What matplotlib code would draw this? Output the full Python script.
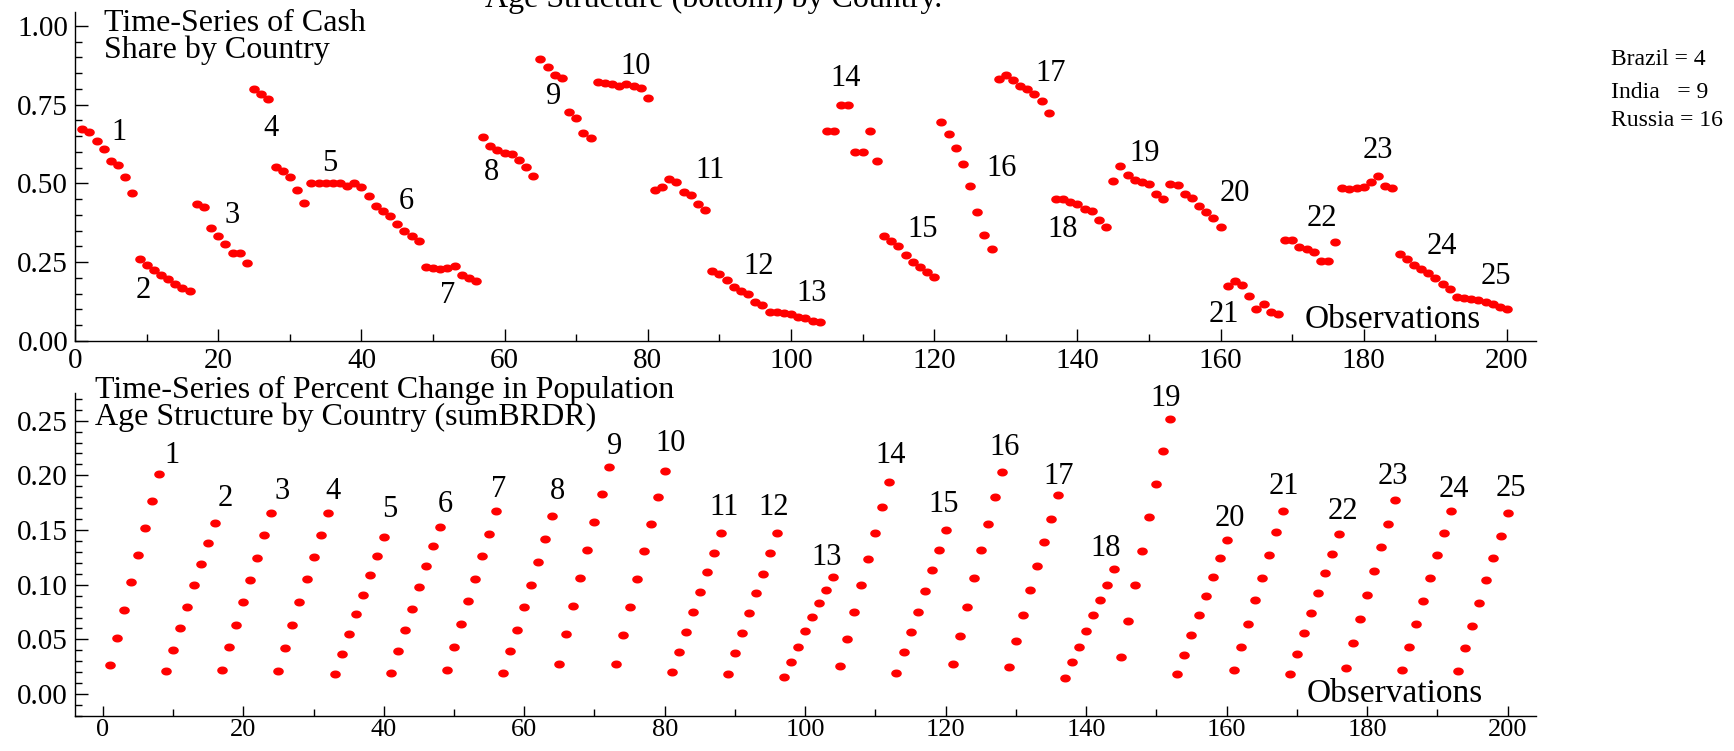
from matplotlib import pyplot as plt
from matplotlib.ticker import MultipleLocator, FormatStrFormatter
from matplotlib.path import Path
import numpy as np

plt.rcParams['font.family'] = ['Liberation Serif', 'DejaVu Serif']

# observation index, 25 countries x 8 years
obs = np.arange(1, 201)
countries = [str(i) for i in range(1, 26)]

# cash share (top panel), one row per country
cash_share = [
    [0.673, 0.663, 0.633, 0.608, 0.571, 0.557, 0.519, 0.468],
    [0.258, 0.240, 0.225, 0.210, 0.195, 0.181, 0.169, 0.157],
    [0.434, 0.425, 0.358, 0.332, 0.307, 0.279, 0.278, 0.248],
    [0.799, 0.783, 0.769, 0.551, 0.538, 0.521, 0.480, 0.438],
    [0.500, 0.500, 0.500, 0.500, 0.500, 0.493, 0.500, 0.489],
    [0.459, 0.429, 0.411, 0.397, 0.371, 0.350, 0.333, 0.317],
    [0.235, 0.230, 0.229, 0.232, 0.238, 0.210, 0.200, 0.190],
    [0.648, 0.620, 0.606, 0.597, 0.594, 0.575, 0.551, 0.523],
    [0.895, 0.869, 0.845, 0.834, 0.728, 0.708, 0.661, 0.643],
    [0.821, 0.819, 0.815, 0.810, 0.815, 0.810, 0.804, 0.771],
    [0.478, 0.489, 0.514, 0.505, 0.473, 0.464, 0.434, 0.414],
    [0.222, 0.211, 0.193, 0.170, 0.158, 0.147, 0.123, 0.112],
    [0.091, 0.091, 0.089, 0.085, 0.076, 0.071, 0.064, 0.058],
    [0.666, 0.666, 0.750, 0.750, 0.600, 0.600, 0.666, 0.572],
    [0.333, 0.316, 0.301, 0.273, 0.250, 0.235, 0.219, 0.202],
    [0.696, 0.656, 0.612, 0.561, 0.492, 0.408, 0.335, 0.292],
    [0.832, 0.844, 0.827, 0.810, 0.799, 0.784, 0.763, 0.723],
    [0.451, 0.451, 0.441, 0.435, 0.418, 0.411, 0.383, 0.361],
    [0.507, 0.554, 0.527, 0.511, 0.505, 0.497, 0.465, 0.450],
    [0.499, 0.494, 0.465, 0.453, 0.429, 0.409, 0.390, 0.361],
    [0.174, 0.189, 0.178, 0.143, 0.100, 0.116, 0.091, 0.084],
    [0.321, 0.319, 0.299, 0.292, 0.283, 0.254, 0.254, 0.313],
    [0.485, 0.481, 0.485, 0.488, 0.504, 0.523, 0.491, 0.485],
    [0.276, 0.260, 0.241, 0.229, 0.216, 0.200, 0.179, 0.164],
    [0.139, 0.136, 0.132, 0.128, 0.123, 0.116, 0.108, 0.100],
]

# percent change in population age structure, sumBRDR (bottom panel)
pop_change = [
    [0.0263, 0.0517, 0.0771, 0.1022, 0.1272, 0.1521, 0.1768, 0.2013],
    [0.0209, 0.0406, 0.0603, 0.0800, 0.0995, 0.1186, 0.1377, 0.1562],
    [0.0218, 0.0430, 0.0636, 0.0842, 0.1045, 0.1246, 0.1458, 0.1652],
    [0.0215, 0.0424, 0.0636, 0.0842, 0.1048, 0.1251, 0.1458, 0.1658],
    [0.0185, 0.0367, 0.0550, 0.0729, 0.0908, 0.1087, 0.1266, 0.1440],
    [0.0197, 0.0391, 0.0585, 0.0777, 0.0980, 0.1174, 0.1353, 0.1529],
    [0.0221, 0.0430, 0.0639, 0.0848, 0.1054, 0.1260, 0.1467, 0.1670],
    [0.0197, 0.0394, 0.0588, 0.0795, 0.1001, 0.1207, 0.1416, 0.1625],
    [0.0278, 0.0547, 0.0806, 0.1066, 0.1320, 0.1574, 0.1825, 0.2076],
    [0.0275, 0.0538, 0.0797, 0.1054, 0.1308, 0.1556, 0.1801, 0.2043],
    [0.0200, 0.0385, 0.0567, 0.0753, 0.0932, 0.1114, 0.1293, 0.1470],
    [0.0188, 0.0373, 0.0556, 0.0738, 0.0920, 0.1102, 0.1287, 0.1470],
    [0.0155, 0.0296, 0.0433, 0.0573, 0.0708, 0.0833, 0.0956, 0.1072],
    [0.0257, 0.0505, 0.0753, 0.0995, 0.1234, 0.1476, 0.1708, 0.1941],
    [0.0194, 0.0382, 0.0567, 0.0755, 0.0944, 0.1132, 0.1317, 0.1502],
    [0.0272, 0.0532, 0.0797, 0.1060, 0.1320, 0.1559, 0.1798, 0.2028],
    [0.0251, 0.0490, 0.0723, 0.0950, 0.1174, 0.1395, 0.1604, 0.1816],
    [0.0149, 0.0293, 0.0433, 0.0579, 0.0723, 0.0860, 0.1001, 0.1141],
    [0.0343, 0.0672, 0.0995, 0.1311, 0.1619, 0.1924, 0.2222, 0.2518],
    [0.0188, 0.0361, 0.0541, 0.0723, 0.0896, 0.1072, 0.1243, 0.1407],
    [0.0224, 0.0433, 0.0645, 0.0857, 0.1066, 0.1272, 0.1478, 0.1673],
    [0.0188, 0.0370, 0.0556, 0.0741, 0.0923, 0.1105, 0.1281, 0.1464],
    [0.0236, 0.0463, 0.0687, 0.0908, 0.1126, 0.1344, 0.1559, 0.1771],
    [0.0224, 0.0433, 0.0642, 0.0851, 0.1063, 0.1269, 0.1473, 0.1670],
    [0.0215, 0.0418, 0.0624, 0.0836, 0.1042, 0.1246, 0.1449, 0.1652],
]

# where the country numbers sit (data coords)
top_lab_x = [6.1, 9.5, 22.0, 27.4, 35.6, 46.3, 52.0, 58.2, 66.8, 78.3, 88.7, 95.5, 102.9,
             107.6, 118.4, 129.4, 136.2, 138.0, 149.4, 162.0, 160.5, 174.1, 181.9, 190.9, 198.5]
top_lab_y = [0.661, 0.161, 0.399, 0.675, 0.564, 0.442, 0.145, 0.535, 0.775, 0.871, 0.540, 0.235, 0.151,
             0.834, 0.354, 0.548, 0.850, 0.352, 0.595, 0.468, 0.082, 0.387, 0.604, 0.299, 0.203]
bot_lab_x = [9.9, 17.4, 25.5, 32.8, 40.8, 48.7, 56.3, 64.7, 72.9, 80.8, 88.4, 95.5, 103.1,
             112.2, 119.7, 128.4, 136.1, 142.8, 151.3, 160.5, 168.1, 176.5, 183.7, 192.3, 200.5]
bot_lab_y = [0.218, 0.179, 0.185, 0.185, 0.169, 0.173, 0.187, 0.185, 0.226, 0.229, 0.171, 0.171, 0.125,
             0.218, 0.173, 0.225, 0.199, 0.133, 0.270, 0.161, 0.190, 0.167, 0.199, 0.187, 0.188]

# slightly flattened dot marker
t = np.linspace(0, 2 * np.pi, 41)
dot = Path(np.column_stack([np.cos(t), 0.72 * np.sin(t)]), closed=True)

f = plt.figure(figsize=(17.34, 7.51), dpi=100)
ax1 = f.add_axes([0.0433, 0.5463, 0.8423, 0.4381])
ax2 = f.add_axes([0.0431, 0.0466, 0.8425, 0.4297])

ax1.plot(obs, np.ravel(cash_share), marker=dot, ms=6.6, color='red', linestyle='None')
ax2.plot(obs, np.ravel(pop_change), marker=dot, ms=6.6, color='red', linestyle='None')

for c, x, y in zip(countries, top_lab_x, top_lab_y):
    ax1.text(x, y, c, fontsize=22, ha='center', va='center')
for c, x, y in zip(countries, bot_lab_x, bot_lab_y):
    ax2.text(x, y, c, fontsize=22, ha='center', va='center')

ax1.axis([0, 204, 0, 1.045])
ax2.axis([-4, 204, -0.02, 0.275])

ax1.yaxis.set_major_locator(MultipleLocator(0.25))
ax1.yaxis.set_minor_locator(MultipleLocator(0.05))
ax2.yaxis.set_major_locator(MultipleLocator(0.05))
ax2.yaxis.set_minor_locator(MultipleLocator(0.01))
for ax in [ax1, ax2]:
    ax.xaxis.set_major_locator(MultipleLocator(20))
    ax.xaxis.set_minor_locator(MultipleLocator(10))
    ax.yaxis.set_major_formatter(FormatStrFormatter('%.2f'))
    for s in ['top', 'right']:
        ax.spines[s].set_visible(False)
    for s in ['left', 'bottom']:
        ax.spines[s].set_linewidth(1.0)
    ax.tick_params(which='both', direction='in', labelsize=21, width=1.0, pad=5)
    ax.tick_params(which='major', length=9)
    ax.tick_params(which='minor', length=5)
ax2.tick_params(axis='x', which='major', length=7.5, labelsize=19, pad=2.5)

ax1.text(4.1, 0.965, 'Time-Series of Cash\nShare by Country', fontsize=23,
         ha='left', va='center', linespacing=0.88)
ax2.text(-1.1, 0.265, 'Time-Series of Percent Change in Population\nAge Structure by Country (sumBRDR)',
         fontsize=23, ha='left', va='center', linespacing=0.88)
ax1.text(184.1, 0.066, 'Observations', fontsize=24, ha='center', va='center')
ax2.text(183.9, 0.0, 'Observations', fontsize=24, ha='center', va='center')

# overall title, its first line falls off the top of the page
f.text(0.4118, 0.9903, 'Age Structure (bottom) by Country.', fontsize=23,
       ha='center', va='baseline')

f.text(0.9289, 0.921, 'Brazil = 4', fontsize=17, ha='left', va='center')
f.text(0.9289, 0.877, 'India   = 9', fontsize=17, ha='left', va='center')
f.text(0.9289, 0.840, 'Russia = 16', fontsize=17, ha='left', va='center')

plt.savefig('out.png', dpi=100)
